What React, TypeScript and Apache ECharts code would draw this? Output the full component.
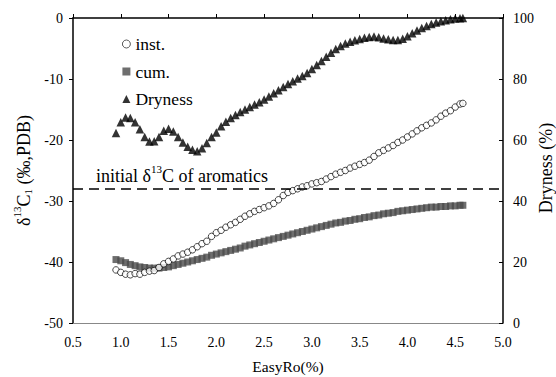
import React, { useEffect, useRef } from "react";
import * as echarts from "echarts";

const easyRo = [
  0.95, 1.0, 1.05, 1.1, 1.15, 1.2, 1.25, 1.3, 1.35, 1.4, 1.45, 1.5, 1.55, 1.6, 1.65, 1.7, 1.75, 1.8, 1.85, 1.9,
  1.95, 2.0, 2.05, 2.1, 2.15, 2.2, 2.25, 2.3, 2.35, 2.4, 2.45, 2.5, 2.55, 2.6, 2.65, 2.7, 2.75, 2.8, 2.85, 2.9,
  2.95, 3.0, 3.05, 3.1, 3.15, 3.2, 3.25, 3.3, 3.35, 3.4, 3.45, 3.5, 3.55, 3.6, 3.65, 3.7, 3.75, 3.8, 3.85, 3.9,
  3.95, 4.0, 4.05, 4.1, 4.15, 4.2, 4.25, 4.3, 4.35, 4.4, 4.45, 4.5, 4.55, 4.58,
];

const instDelta = [
  -41.3, -41.7, -42.0, -42.1, -41.9, -42.0, -41.7, -41.5, -41.4, -40.9, -40.3, -39.9, -39.5, -39.0, -38.7, -38.4, -38.0, -37.5, -37.0, -36.6,
  -35.8, -35.2, -34.8, -34.3, -33.9, -33.5, -33.0, -32.5, -32.1, -31.7, -31.4, -31.1, -30.8, -30.4, -29.8, -29.1, -28.6, -28.3, -28.0, -27.7,
  -27.5, -27.2, -27.0, -26.8, -26.4, -26.0, -25.6, -25.3, -25.0, -24.6, -24.3, -24.0, -23.7, -23.3, -22.7, -22.1, -21.7, -21.3, -20.9, -20.4,
  -20.0, -19.5, -19.0, -18.5, -18.0, -17.6, -17.2, -16.7, -16.1, -15.6, -15.2, -14.6, -14.1, -14.0,
];

const cumDelta = [
  -39.6, -39.8, -40.1, -40.4, -40.6, -40.8, -40.9, -41.0, -41.0, -41.0, -40.9, -40.8, -40.6, -40.4, -40.2, -40.0, -39.8, -39.6, -39.4, -39.2,
  -38.9, -38.7, -38.5, -38.3, -38.1, -37.9, -37.7, -37.4, -37.2, -37.0, -36.8, -36.6, -36.4, -36.2, -36.0, -35.8, -35.6, -35.4, -35.2, -35.0,
  -34.8, -34.6, -34.4, -34.2, -34.0, -33.8, -33.6, -33.5, -33.3, -33.2, -33.0, -32.9, -32.7, -32.6, -32.4, -32.3, -32.1, -32.0, -31.9, -31.7,
  -31.6, -31.5, -31.4, -31.3, -31.2, -31.1, -31.0, -31.0, -30.9, -30.9, -30.8, -30.8, -30.7, -30.7,
];

const dryness = [
  62.3, 65.8, 67.4, 67.2, 65.8, 63.5, 61.0, 59.5, 59.6, 61.0, 63.0, 63.7, 62.8, 61.0, 59.2, 57.8, 56.8, 56.3, 57.3, 59.0,
  61.0, 62.5, 64.5, 66.0, 67.2, 68.2, 69.2, 70.0, 70.8, 71.6, 72.4, 73.3, 74.3, 75.3, 76.3, 77.4, 78.4, 79.3, 80.2, 81.0,
  82.0, 83.3, 84.6, 85.9, 87.3, 88.6, 89.8, 90.8, 91.6, 92.2, 92.7, 93.1, 93.5, 93.8, 93.9, 93.7, 93.3, 93.0, 92.8, 92.8,
  93.2, 94.0, 95.0, 95.9, 96.7, 97.4, 98.0, 98.5, 98.9, 99.3, 99.6, 99.8, 99.9, 100.0,
];

const initialAromatics = -28;

const FONT = "Liberation Serif";

export default function App() {
  const ref = useRef<HTMLDivElement>(null);
  useEffect(() => {
    if (!ref.current) return;
    const chart = echarts.init(ref.current, null, { renderer: "svg" });
    const zip = (ys: number[]) => easyRo.map((x, i) => [x, ys[i]]);
    const labelStyle = { fontFamily: FONT, fontSize: 14, color: "#000" };
    const blackLine = { lineStyle: { color: "#000", width: 1.5 } };
    chart.setOption({
      animation: false,
      backgroundColor: "#fff",
      textStyle: { fontFamily: FONT },
      grid: { left: 73, right: 53, top: 18, bottom: 54, containLabel: false, outerBoundsMode: "none" },
      legend: {
        orient: "vertical",
        left: 117,
        top: 28,
        itemWidth: 8,
        itemHeight: 8,
        itemGap: 5.5,
        textStyle: { fontFamily: FONT, fontSize: 17.5, lineHeight: 22, color: "#000" },
        data: [
          { name: "inst.", itemStyle: { color: "#fff", borderColor: "#000", borderWidth: 0.8 } },
          { name: "cum.", itemStyle: { color: "#4a4a4a" } },
          { name: "Dryness", itemStyle: { color: "#000" } },
        ],
      },
      xAxis: [
        {
          type: "value",
          min: 0.5,
          max: 5,
          interval: 0.5,
          position: "bottom",
          axisLine: blackLine,
          axisTick: { inside: true, length: 4, lineStyle: { color: "#000" } },
          axisLabel: { ...labelStyle, margin: 12, formatter: (v: number) => v.toFixed(1) },
          splitLine: { show: false },
          name: "EasyRo(%)",
          nameLocation: "middle",
          nameGap: 35,
          nameTextStyle: { fontFamily: FONT, fontSize: 15.5, color: "#000" },
        },
        {
          type: "value",
          min: 0.5,
          max: 5,
          position: "top",
          axisLine: { lineStyle: { color: "#888", width: 1 } },
          axisTick: { show: false },
          axisLabel: { show: false },
          splitLine: { show: false },
        },
      ],
      yAxis: [
        {
          type: "value",
          min: -50,
          max: 0,
          interval: 10,
          axisLine: { show: true, ...blackLine },
          axisTick: { show: true, inside: false, length: 4, lineStyle: { color: "#000" } },
          axisLabel: { ...labelStyle, margin: 10 },
          splitLine: { show: false },
          name: "{d|δ}{sup|13}{d|C}{sub|1}{d| (‰,PDB)}",
          nameLocation: "middle",
          nameRotate: 90,
          nameGap: 35,
          nameTextStyle: {
            fontFamily: FONT,
            fontSize: 18,
            color: "#000",
            rich: {
              d: { fontFamily: FONT, fontSize: 18, color: "#000", lineHeight: 22, verticalAlign: "bottom" },
              sup: { fontFamily: FONT, fontSize: 11, color: "#000", lineHeight: 13, verticalAlign: "top" },
              sub: { fontFamily: FONT, fontSize: 11, color: "#000", lineHeight: 13, verticalAlign: "bottom" },
            },
          },
        },
        {
          type: "value",
          min: 0,
          max: 100,
          interval: 20,
          position: "right",
          axisLine: { show: true, ...blackLine },
          axisTick: { show: true, inside: true, length: 4, lineStyle: { color: "#000" } },
          axisLabel: { ...labelStyle, margin: 10 },
          splitLine: { show: false },
        },
      ],
      graphic: [
        {
          type: "text",
          left: 96,
          top: 163,
          style: {
            text: "{n|initial δ}{sup|13}{n|C of aromatics}",
            rich: {
              n: { fontFamily: FONT, fontSize: 18, fill: "#000", lineHeight: 22, verticalAlign: "bottom" },
              sup: { fontFamily: FONT, fontSize: 11, fill: "#000", lineHeight: 13, verticalAlign: "top" },
            },
          },
        },
        {
          type: "text",
          x: 546,
          y: 168,
          rotation: Math.PI / 2,
          style: {
            text: "Dryness (%)",
            fontFamily: FONT,
            fontSize: 18,
            fill: "#000",
            align: "center",
            verticalAlign: "middle",
          },
        },
      ],
      series: [
        {
          name: "Dryness",
          type: "scatter",
          yAxisIndex: 1,
          symbol: "triangle",
          symbolSize: 8.5,
          itemStyle: { color: "#000" },
          data: zip(dryness),
          z: 2,
        },
        {
          name: "cum.",
          type: "scatter",
          symbol: "rect",
          symbolSize: 7,
          itemStyle: { color: "#4a4a4a" },
          data: zip(cumDelta),
          z: 3,
          markLine: {
            silent: true,
            symbol: "none",
            label: { show: false },
            lineStyle: { type: [10, 6], color: "#000", width: 1.5 },
            data: [{ yAxis: initialAromatics }],
          },
        },
        {
          name: "inst.",
          type: "scatter",
          symbol: "circle",
          symbolSize: 6.5,
          itemStyle: { color: "#fff", borderColor: "#000", borderWidth: 0.9 },
          data: zip(instDelta),
          z: 4,
        },
      ],
    });
    return () => chart.dispose();
  }, []);
  return <div ref={ref} style={{ width: 556, height: 377, position: "absolute", left: 0, top: 0 }} />;
}
